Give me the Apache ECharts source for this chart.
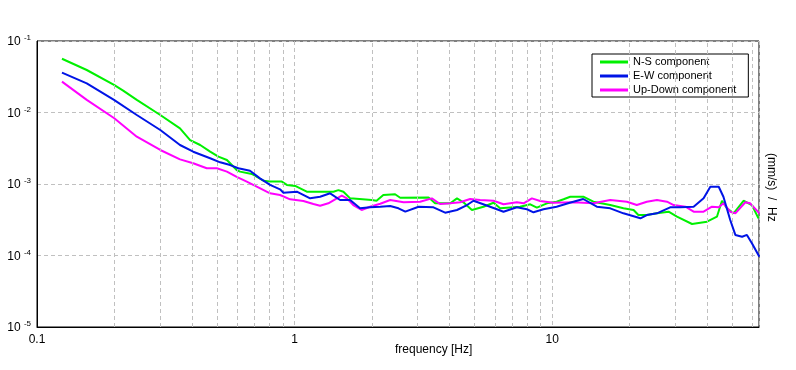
<!DOCTYPE html>
<html>
<head>
<meta charset="utf-8">
<script src="https://cdn.jsdelivr.net/npm/echarts@6/dist/echarts.min.js"></script>
<style>
html,body{margin:0;padding:0;background:#fff;}
#chart{width:796px;height:370px;}
</style>
</head>
<body>
<div id="chart"></div>
<script>
// ---- data (frequency [Hz], amplitude) ----
const seriesNames = ['N-S component', 'E-W component', 'Up-Down component'];

const nsData = [
  [0.125,0.0565],[0.156,0.0393],[0.199,0.0243],[0.216,0.0202],[0.244,0.0150],
  [0.301,0.00923],[0.359,0.00601],[0.393,0.00412],[0.43,0.00351],[0.47,0.00283],
  [0.506,0.00241],[0.546,0.00217],[0.562,0.00195],[0.596,0.00157],[0.614,0.00149],
  [0.682,0.00138],[0.757,0.00111],[0.803,0.00108],[0.892,0.00108],[0.933,0.00097],
  [1.005,0.00094],[1.115,0.00078],[1.256,0.00078],[1.415,0.00078],[1.479,0.00082],
  [1.547,0.00078],[1.643,0.00063],[1.994,0.000597],[2.08,0.000584],[2.21,0.000702],
  [2.455,0.000718],[2.57,0.000643],[3.31,0.00065],[3.51,0.000537],[4.02,0.000537],
  [4.27,0.00063],[4.52,0.000555],[4.88,0.000433],[5.41,0.000481],[5.92,0.000547],
  [6.28,0.000457],[7.51,0.000481],[8.22,0.00052],[8.72,0.000467],[9.54,0.000537],
  [10.4,0.000565],[11.07,0.000611],[11.75,0.000664],[13.2,0.000664],[14.45,0.000565],
  [16.8,0.000508],[18.9,0.000457],[20.7,0.000433],[21.6,0.000368],[23.3,0.000368],
  [25.5,0.000389],[28.3,0.00041],[30.5,0.000349],[34.9,0.000276],[39.9,0.000297],
  [43.6,0.000349],[45.6,0.000583],[47.7,0.000457],[50.6,0.000389],[55.3,0.000583],
  [59.6,0.000508],[63.2,0.000331]
];

const ewData = [
  [0.125,0.0361],[0.156,0.0256],[0.199,0.0150],[0.244,0.00923],[0.301,0.00569],
  [0.359,0.00351],[0.404,0.00283],[0.47,0.00229],[0.514,0.00201],[0.562,0.00184],
  [0.605,0.00166],[0.671,0.00153],[0.734,0.00120],[0.803,0.00097],[0.878,0.000843],
  [0.905,0.000755],[1.02,0.00078],[1.149,0.00063],[1.256,0.000664],[1.374,0.000741],
  [1.502,0.000597],[1.643,0.000597],[1.795,0.000457],[1.963,0.000472],[2.15,0.000481],
  [2.35,0.000492],[2.53,0.000457],[2.69,0.00041],[3.03,0.000481],[3.46,0.000472],
  [3.84,0.000397],[4.27,0.000433],[4.67,0.000508],[4.95,0.000583],[5.5,0.000508],
  [6.1,0.000443],[6.47,0.00041],[7.29,0.000472],[7.98,0.000443],[8.46,0.000402],
  [9.25,0.000443],[10.4,0.000481],[11.7,0.000547],[13.2,0.000617],[14.9,0.000481],
  [16.8,0.000457],[18.9,0.000389],[22.0,0.000331],[23.3,0.000368],[25.5,0.000389],
  [28.7,0.000472],[31.4,0.000472],[35.4,0.000481],[38.7,0.00063],[41.1,0.000916],
  [44.3,0.000916],[46.2,0.000664],[49.1,0.000314],[51.4,0.000194],[54.6,0.000183],
  [57.0,0.000194],[59.6,0.000148],[63.7,0.0000962]
];

const udData = [
  [0.125,0.0270],[0.156,0.0150],[0.1995,0.0083],[0.244,0.00459],[0.301,0.00299],
  [0.359,0.00221],[0.404,0.00195],[0.456,0.00166],[0.499,0.00166],[0.546,0.00149],
  [0.596,0.00126],[0.652,0.00108],[0.713,0.000916],[0.803,0.000741],[0.878,0.000702],
  [0.961,0.000611],[1.082,0.000578],[1.183,0.000525],[1.256,0.000497],[1.352,0.000537],
  [1.459,0.00063],[1.525,0.000686],[1.595,0.00063],[1.69,0.000508],[1.82,0.000433],
  [1.963,0.000481],[2.15,0.00053],[2.35,0.000597],[2.65,0.000555],[3.07,0.000565],
  [3.41,0.00063],[3.67,0.000525],[4.02,0.000537],[4.39,0.000555],[4.8,0.000617],
  [5.25,0.000597],[5.92,0.000583],[6.47,0.00052],[7.29,0.000555],[7.74,0.000537],
  [8.34,0.00063],[8.98,0.000578],[10.1,0.000547],[12.1,0.000555],[14.45,0.000537],
  [16.8,0.000597],[19.5,0.000565],[21.3,0.000508],[23.3,0.000565],[25.5,0.000597],
  [27.9,0.000565],[29.6,0.000508],[32.9,0.000481],[35.4,0.00041],[38.7,0.00041],
  [41.7,0.000481],[44.3,0.000472],[46.2,0.000537],[49.1,0.00041],[51.4,0.000389],
  [56.2,0.000555],[58.7,0.000537],[63.7,0.000389]
];

// axis extents and minor (2..9) frequency grid lines
const xMin = 0.1, xMax = 63.5;
const yMin = 1e-5, yMax = 1e-1;
const xMinorGrid = [0.2,0.3,0.4,0.5,0.6,0.7,0.8,0.9,2,3,4,5,6,7,8,9,20,30,40,50,60];
const xTickLabels = {'-1':'0.1','0':'1','1':'10'};

const colors = ['#00f000', '#0014e6', '#ff00ff'];
const FONT = '"Liberation Sans", Arial, sans-serif';

const chart = echarts.init(document.getElementById('chart'), null, {renderer:'canvas'});

const gridLine = {show:true, lineStyle:{color:'#c0c0c0', width:1, type:[4,3]}};

const option = {
  backgroundColor:'#ffffff',
  animation:false,
  color: colors,
  textStyle:{fontFamily:FONT},
  grid:{left:37, right:37, top:41, bottom:43, show:true, borderColor:'#000', borderWidth:1, backgroundColor:'transparent'},
  legend:{
    data: seriesNames,
    orient:'vertical',
    left:592, top:54,
    backgroundColor:'#fff',
    borderColor:'#000', borderWidth:1, borderRadius:0,
    padding:[1,12,0,8],
    itemGap:0,
    itemWidth:28, itemHeight:3,
    itemStyle:{borderWidth:0},
    icon:'rect',
    textStyle:{fontSize:11, color:'#000', fontFamily:FONT, lineHeight:14, padding:[0,0,0,0]},
    selectedMode:false
  },
  xAxis:{
    type:'log', logBase:10, min:xMin, max:xMax,
    axisLine:{show:true, lineStyle:{color:'#000', width:1}},
    axisTick:{show:false},
    splitLine: gridLine,
    minorSplitLine:{show:false},
    axisLabel:{
      color:'#000', fontSize:12, fontFamily:FONT, margin:7,
      showMaxLabel:false,
      formatter:function(v){
        const e = Math.log10(v);
        const r = Math.round(e);
        if (Math.abs(e - r) < 1e-6 && xTickLabels[String(r)] !== undefined) return xTickLabels[String(r)];
        return '';
      }
    }
  },
  yAxis:{
    type:'log', logBase:10, min:yMin, max:yMax,
    axisLine:{show:true, lineStyle:{color:'#000', width:1}},
    axisTick:{show:false},
    splitLine: gridLine,
    axisLabel:{
      color:'#000', margin:6,
      formatter:function(v){
        const e = Math.round(Math.log10(v));
        return '{b|10} {s|' + e + '}';
      },
      rich:{
        b:{fontSize:12, fontFamily:FONT, color:'#000', lineHeight:14, verticalAlign:'bottom'},
        s:{fontSize:8, fontFamily:FONT, color:'#000', lineHeight:14, verticalAlign:'top', padding:[0,0,6,0]}
      }
    }
  },
  graphic:[
    {type:'text', left:395, top:344, style:{text:'frequency [Hz]', font:'12px ' + FONT, fill:'#000'}},
    {type:'text', x:771, y:153, rotation:-Math.PI/2,
     style:{text:'(mm/s)  /  Hz', font:'12px ' + FONT, fill:'#000', textAlign:'left', textVerticalAlign:'middle'}}
  ],
  series:[
    {
      name:'grid', type:'line', data:[], z:1, silent:true,
      markLine:{
        silent:true, symbol:['none','none'], label:{show:false},
        lineStyle:{color:'#c0c0c0', width:1, type:[4,3]},
        emphasis:{disabled:true},
        data: xMinorGrid.map(v => ({xAxis:v}))
      }
    },
    {name:seriesNames[0], type:'line', data:nsData, showSymbol:false, symbol:'none', z:3, lineStyle:{width:2, color:colors[0]}, itemStyle:{color:colors[0]}},
    {name:seriesNames[2], type:'line', data:udData, showSymbol:false, symbol:'none', z:4, lineStyle:{width:2, color:colors[2]}, itemStyle:{color:colors[2]}},
    {name:seriesNames[1], type:'line', data:ewData, showSymbol:false, symbol:'none', z:5, lineStyle:{width:2, color:colors[1]}, itemStyle:{color:colors[1]}}
  ]
};
chart.setOption(option);
</script>
</body>
</html>
